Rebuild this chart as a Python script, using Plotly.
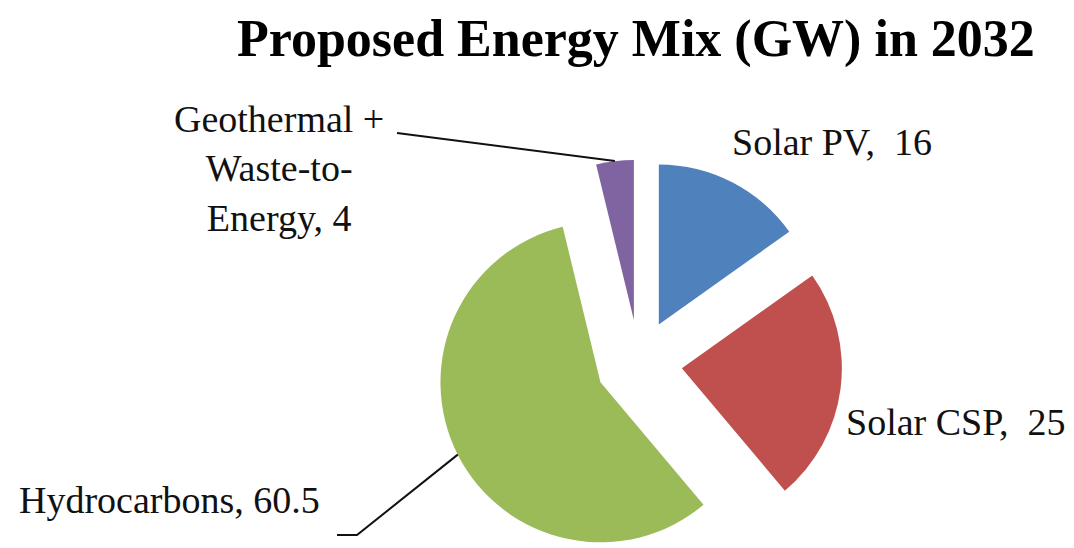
import math
import plotly.graph_objects as go

# Proposed energy mix for 2032, in GW
sources = ["Solar PV", "Solar CSP", "Hydrocarbons", "Geothermal +<br>Waste-to-<br>Energy"]
capacity_gw = [16, 25, 60.5, 4]
separators = [",  ", ",  ", ", ", ", "]
slice_colors = ["#4F81BD", "#C0504D", "#9BBB59", "#8064A2"]

W, H = 1074, 566
CX = 639            # pie centre, px from left
R = 160             # pie radius, px
PULL = 0.27         # explode distance as a fraction of the radius
BOX = 2 * R * (1 + PULL)
CY = H - BOX / 2    # pie centre, px from top

def px(x):
    return x / W

def py(y):
    return 1 - y / H

fig = go.Figure(
    go.Pie(
        labels=sources,
        values=capacity_gw,
        sort=False,
        direction="clockwise",
        rotation=0,
        pull=[PULL] * len(capacity_gw),
        marker=dict(colors=slice_colors, line=dict(width=0)),
        textinfo="none",
        hoverinfo="skip",
        showlegend=False,
        domain=dict(x=[px(CX - BOX / 2), px(CX + BOX / 2)], y=[0, BOX / H]),
    )
)

# outer mid-arc point of each exploded slice, in px
total = sum(capacity_gw)
mid_pts = []
acc = 0.0
for v in capacity_gw:
    theta = 2 * math.pi * (acc + v / 2) / total
    acc += v
    d = R * (1 + PULL)
    mid_pts.append((CX + d * math.sin(theta), CY - d * math.cos(theta)))

label_font = dict(family="Liberation Serif", size=38, color="#111111")
label_pos = [(832, 142), (956, 422), (169, 500), (279, 168)]
for name, val, sep, (lx, ly) in zip(sources, capacity_gw, separators, label_pos):
    fig.add_annotation(
        x=px(lx), y=py(ly), xref="paper", yref="paper",
        text=f"{name}{sep}{val:g}", showarrow=False,
        xanchor="center", yanchor="middle", align="center",
        font=label_font,
    )

# leader lines
hx, hy = mid_pts[2]
gx, gy = mid_pts[3]
line_style = dict(color="#111111", width=2)
fig.add_shape(type="path", xref="paper", yref="paper",
              path=f"M {px(337)},{py(535)} L {px(357)},{py(535)} L {px(hx)},{py(hy)}",
              line=line_style)
fig.add_shape(type="line", xref="paper", yref="paper",
              x0=px(397), y0=py(133), x1=px(gx), y1=py(gy), line=line_style)

fig.add_annotation(
    x=px(636), y=py(39), xref="paper", yref="paper",
    text="<b>Proposed Energy Mix (GW) in 2032</b>", showarrow=False,
    xanchor="center", yanchor="middle",
    font=dict(family="Liberation Serif", size=52, color="#000000"),
)

fig.update_layout(
    width=W, height=H,
    margin=dict(l=0, r=0, t=0, b=0),
    paper_bgcolor="white", plot_bgcolor="white",
)

fig.write_html("out.html")
